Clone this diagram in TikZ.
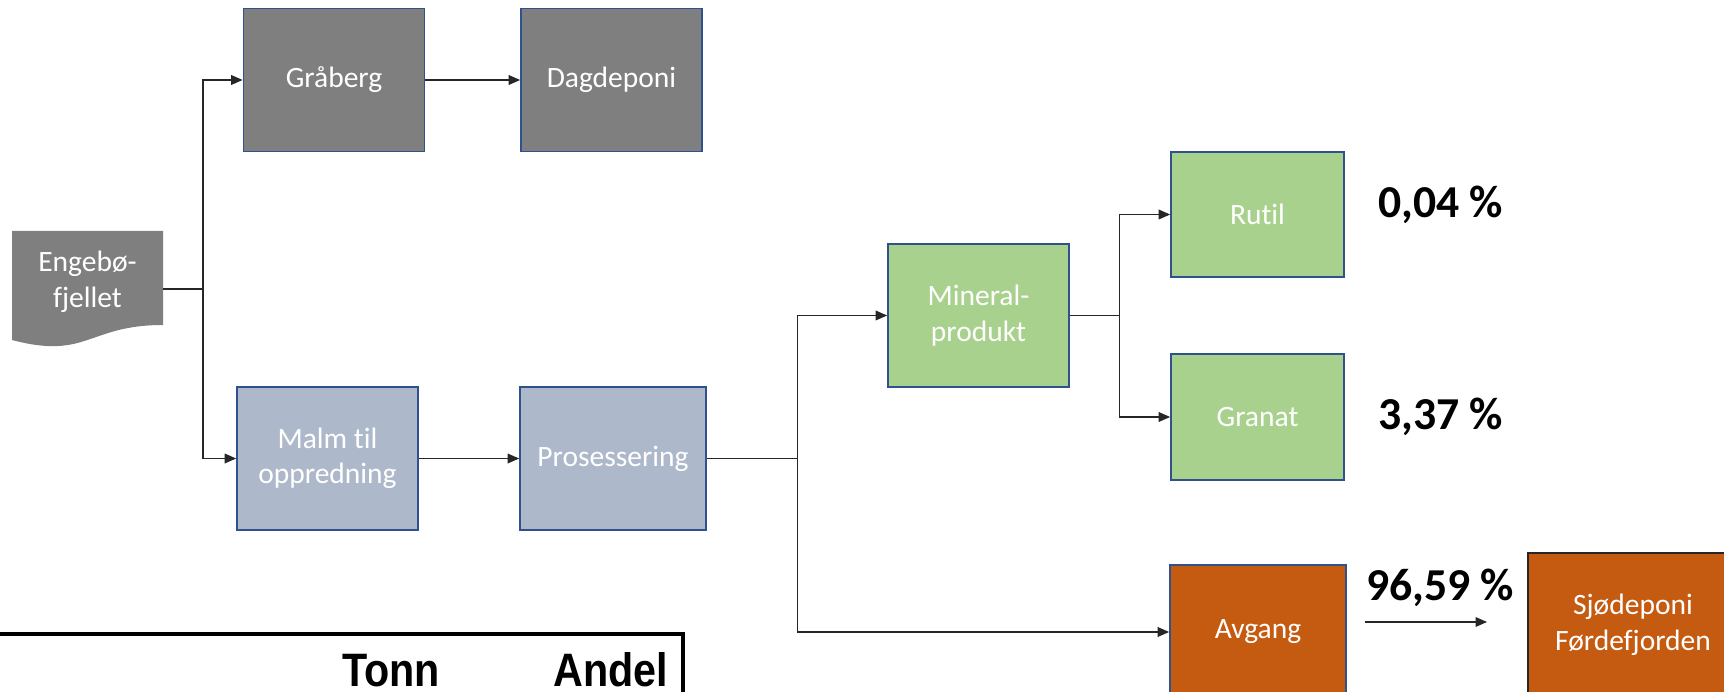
\documentclass[tikz,border=0pt]{standalone}
\usepackage{fontspec}
\setmainfont{Carlito}[Ligatures=NoCommon]
\newfontfamily\tabfont[FakeStretch=0.88]{Liberation Sans}
\usepackage{xcolor}
\definecolor{graa}{RGB}{127,127,127}
\definecolor{blaagraa}{RGB}{173,185,202}
\definecolor{gronn}{RGB}{169,209,142}
\definecolor{oransje}{RGB}{197,90,17}
\definecolor{kant}{RGB}{47,82,143}
\usetikzlibrary{arrows.meta, positioning}
\newcommand{\B}[1]{\textbf{#1}}

\begin{document}
\begin{tikzpicture}[x=0.02cm, y=-0.02cm,
    boks/.style={draw=kant, line width=1pt, text=white, align=center,
        font=\fontsize{16.8}{20.2}\selectfont, minimum width=3.62cm,
        minimum height=2.86cm, inner sep=0pt},
    pil/.style={-{Triangle[length=6.5pt,width=5.5pt]}, line width=0.7pt, black!85},
    linje/.style={line width=0.7pt, black!85},
    pst/.style={font=\fontsize{26}{30}\selectfont, anchor=west, inner sep=0pt},
    tab/.style={font=\tabfont\bfseries\fontsize{26.7}{30}\selectfont, anchor=base west, inner sep=0pt}]
        \useasboundingbox (0,0) rectangle (1724,692);
        % Engebøfjellet (dokumentform)
        \fill[graa] (12,231) -- (163,231) -- (163,325)
            .. controls (87.5,325) and (87.5,360) .. (12,340) -- cycle;
        \node[text=white, align=center, font=\fontsize{16.8}{20.2}\selectfont] (eng) at (87.5,282) {Engebø-\\fjellet};
        \coordinate (engR) at (163,289);
        \coordinate (kryss1) at (203,289);

        % Øverste rad
        \node[boks, fill=graa] (grab) at (334,80) {Gråberg};
        \node[boks, fill=graa] (dag) at (611.5,80) {Dagdeponi};
        % Nederste rad
        \node[boks, fill=blaagraa] (malm) at (327.5,458.5) {Malm til\\oppredning};
        \node[boks, fill=blaagraa, minimum width=3.72cm] (pros) at (613,458.5) {Prosessering};
        \node[boks, fill=gronn] (min) at (978.5,315.5) {Mineral-\\produkt};
        \node[boks, fill=gronn, minimum width=3.46cm, minimum height=2.51cm] (rutil) at (1257.5,214.5) {Rutil};
        \node[boks, fill=gronn, minimum width=3.46cm, minimum height=2.51cm] (granat) at (1257.5,417) {Granat};
        \node[boks, fill=oransje, minimum width=3.52cm, minimum height=2.68cm] (avg) at (1258,632) {Avgang};
        \node[boks, fill=oransje, draw=black!85, minimum width=4.2cm, minimum height=2.88cm] (sjo) at (1633,625) {Sjødeponi\\Førdefjorden};

        % Piler
        \draw[linje] (engR) -- (kryss1);
        \draw[pil] (kryss1) |- (grab.west);
        \draw[pil] (kryss1) |- (malm.west);
        \draw[pil] (grab) -- (dag);
        \draw[pil] (malm) -- (pros);
        \path (pros.east) ++(91,0) coordinate (kryss2);
        \draw[linje] (pros.east) -- (kryss2);
        \draw[pil] (kryss2) |- (min.west);
        \draw[pil] (kryss2) |- (avg.west);
        \path (min.east) ++(50,0) coordinate (kryss3);
        \draw[linje] (min.east) -- (kryss3);
        \draw[pil] (kryss3) |- (rutil.west);
        \draw[pil] (kryss3) |- (granat.west);

        % Andeler
        \node[pst] (p1) at (1378,205) {\B{0,04 \%}};
        \node[pst] (p2) at (1378,417) {\B{3,37 \%}};
        \coordinate (a1) at (1365,622);
        \coordinate (a2) at (1487,622);
        \draw[pil] (a1) -- (a2);
        \node[pst, anchor=center] (p3) at (1440,588) {\B{96,59 \%}};

        % Tabell (nederst til venstre)
        \draw[line width=2.2pt] (0,634) -- (683,634) -- (683,700);
        \node[tab] (tonn) at (342,686) {Tonn};
        \node[tab] (andel) at (553,686) {Andel};
\end{tikzpicture}
\end{document}
